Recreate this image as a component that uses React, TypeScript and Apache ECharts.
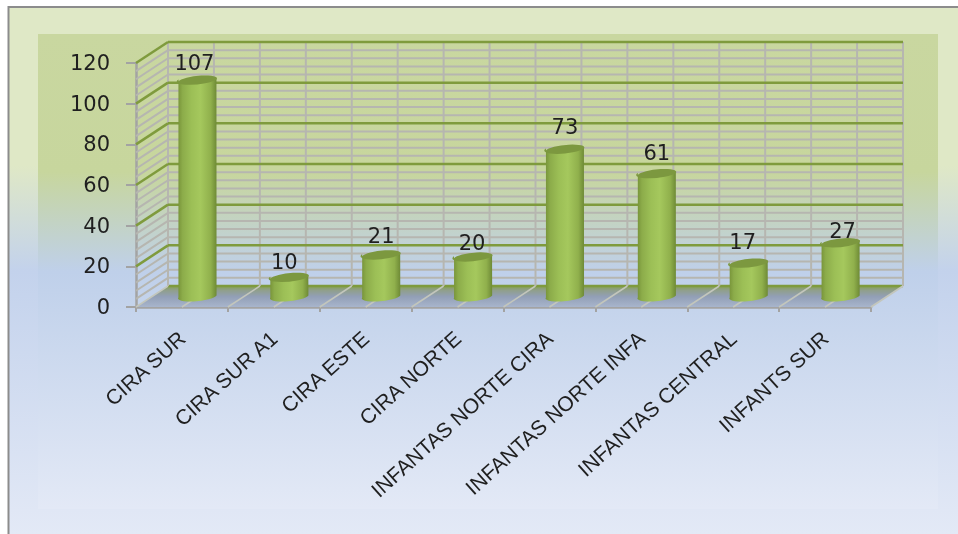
import React, { useEffect, useRef } from "react";
import * as echarts from "echarts";

const categories = ["CIRA SUR", "CIRA SUR A1", "CIRA ESTE", "CIRA NORTE", "INFANTAS NORTE CIRA", "INFANTAS NORTE INFA", "INFANTAS CENTRAL", "INFANTS SUR"];
const values = [107, 10, 21, 20, 73, 61, 17, 27];
const wallMajorTicks = [0, 20, 40, 60, 80, 100, 120];
const wallMinorTicks = [4, 8, 12, 16, 24, 28, 32, 36, 44, 48, 52, 56, 64, 68, 72, 76, 84, 88, 92, 96, 104, 108, 112, 116];
const labelNudgeX = [-3, -5, 0, -1, 0, 0, -6, 2];
const labelNudgeY = [-16, -15, -18, -13, -22, -20, -20, -11];

const DX = 32, DY = 21;
const MAJOR = "#7f9b3d", MINOR = "#b6b6b0";

function line(x1: number, y1: number, x2: number, y2: number, stroke: string, lineWidth: number) {
  return { type: "line", shape: { x1, y1, x2, y2 }, style: { stroke, lineWidth } };
}

function wallLines(color: string, width: number) {
  return (params: any, api: any) => {
    const cs = params.coordSys;
    const y = api.coord([0, api.value(1)])[1];
    return {
      type: "group",
      children: [
        line(cs.x, y, cs.x + DX, y - DY, color, width),
        line(cs.x + DX, y - DY, cs.x + cs.width + DX, y - DY, color, width),
      ],
    };
  };
}

const renderFrame = (params: any, api: any) => {
  const cs = params.coordSys;
  const [cx] = api.coord([api.value(0), 0]);
  const band = api.size([1, 0])[0];
  const bottom = cs.y + cs.height;
  const children: any[] = [];
  [cx - band / 2, cx].forEach((x) => {
    children.push(line(x + DX, bottom - DY, x + DX, cs.y - DY, MINOR, 2));
    children.push(line(x, bottom, x + DX, bottom - DY, "#c3c6bc", 1.5));
  });
  if (api.value(0) === categories.length - 1) {
    const r = cx + band / 2;
    children.push(line(r + DX, bottom - DY, r + DX, cs.y - DY, MINOR, 2));
    children.push(line(r, bottom, r + DX, bottom - DY, "#c3c6bc", 2));
  }
  return { type: "group", children };
};

const renderFloor = (params: any) => {
  const cs = params.coordSys;
  const b = cs.y + cs.height;
  const l = cs.x, r = cs.x + cs.width;
  return {
    type: "group",
    children: [
      {
        type: "polygon",
        shape: { points: [[l, b], [r, b], [r + DX, b - DY], [l + DX, b - DY]] },
        style: {
          fill: new echarts.graphic.LinearGradient(0, 0, 0, 1, [
            { offset: 0, color: "#86a055" },
            { offset: 0.2, color: "#909f8a" },
            { offset: 0.5, color: "#929fb6" },
            { offset: 1, color: "#a8b5cc" },
          ]),
        },
      },
      line(l + DX, b - DY, r + DX, b - DY, MAJOR, 2.5),
    ],
  };
};

const renderCylinder = (params: any, api: any) => {
  const i = api.value(0);
  const base = api.coord([i, 0]);
  const top = api.coord([i, api.value(1)]);
  const cx = base[0] + DX / 2 - 0.5;
  const by = base[1] - 11.5;
  const ty = top[1] - 10;
  const rx = 19, ry = 4.5, t = 2;
  const l = cx - rx, r = cx + rx;
  const body = `M${l} ${ty + t}L${l} ${by + t}A${rx} ${ry} -6 0 0 ${r} ${by - t}L${r} ${ty - t}A${rx} ${ry} -6 0 1 ${l} ${ty + t}Z`;
  const cap = `M${l} ${ty + t}A${rx} ${ry} -6 0 1 ${r} ${ty - t}A${rx} ${ry} -6 0 1 ${l} ${ty + t}Z`;
  return {
    type: "group",
    children: [
      {
        type: "path",
        shape: { pathData: body, layout: "none" },
        style: {
          fill: new echarts.graphic.LinearGradient(0, 0, 1, 0, [
            { offset: 0, color: "#779339" },
            { offset: 0.12, color: "#8cac4a" },
            { offset: 0.35, color: "#9cbf56" },
            { offset: 0.58, color: "#a5c85d" },
            { offset: 0.85, color: "#90b04c" },
            { offset: 1, color: "#6e8a36" },
          ]),
        },
      },
      {
        type: "path",
        shape: { pathData: cap, layout: "none" },
        style: { fill: "#7c983f" },
      },
      {
        type: "text",
        style: {
          text: String(api.value(1)),
          x: cx + labelNudgeX[i],
          y: ty + labelNudgeY[i],
          align: "center",
          verticalAlign: "middle",
          font: '21px "DejaVu Sans"',
          fill: "#1f1f1f",
        },
      },
    ],
  };
};

export default function App() {
  const ref = useRef<HTMLDivElement>(null);
  useEffect(() => {
    const chart = echarts.init(ref.current!, null, { renderer: "svg" });
    chart.setOption({
      animation: false,
      graphic: [
        {
          type: "rect",
          z: -10,
          silent: true,
          shape: { x: 9, y: 8, width: 949, height: 526 },
          style: {
            fill: new echarts.graphic.LinearGradient(0, 0, 0, 1, [
              { offset: 0, color: "#dfe8c6" },
              { offset: 0.3, color: "#dfe8c6" },
              { offset: 0.5, color: "#c3d2ec" },
              { offset: 1, color: "#e3e9f6" },
            ]),
          },
        },
        {
          type: "rect",
          z: -9,
          silent: true,
          shape: { x: 38, y: 34, width: 900, height: 475 },
          style: {
            fill: new echarts.graphic.LinearGradient(0, 0, 0, 1, [
              { offset: 0, color: "#c9d7a0" },
              { offset: 0.29, color: "#c7d69d" },
              { offset: 0.5, color: "#bfd0ea" },
              { offset: 1, color: "#e3e9f6" },
            ]),
          },
        },
        { type: "rect", z: -8, silent: true, shape: { x: 8, y: 6, width: 950, height: 2 }, style: { fill: "#8c8c8c" } },
        { type: "rect", z: -8, silent: true, shape: { x: 7.5, y: 6, width: 2, height: 528 }, style: { fill: "#8c8c8c" } },
      ],
      grid: { left: 136, right: 87, top: 63, bottom: 227 },
      xAxis: {
        type: "category",
        data: categories,
        axisLine: { lineStyle: { color: "#a3a3a3", width: 2.5 } },
        axisTick: { show: true, length: 5, lineStyle: { color: "#a3a3a3", width: 2 } },
        axisLabel: {
          interval: 0,
          rotate: 42,
          margin: 28,
          fontFamily: "Liberation Sans",
          fontSize: 21,
          color: "#1f1f1f",
        },
        splitLine: { show: false },
      },
      yAxis: {
        type: "value",
        min: 0,
        max: 120,
        interval: 20,
        axisLine: { show: true, lineStyle: { color: "#a3a3a3", width: 2.5 } },
        axisTick: { show: true, length: 10, lineStyle: { color: "#a3a3a3", width: 2 } },
        axisLabel: { margin: 26, fontFamily: "DejaVu Sans", fontSize: 21, color: "#1f1f1f" },
        splitLine: { show: false },
      },
      series: [
        { type: "custom", z: 1, silent: true, renderItem: renderFloor, data: [[0, 0]], encode: { x: 0, y: 1 } },
        { type: "custom", z: 1, silent: true, renderItem: wallLines(MINOR, 2), data: wallMinorTicks.map((v) => [0, v]), encode: { x: 0, y: 1 } },
        { type: "custom", z: 1, silent: true, renderItem: renderFrame, data: categories.map((_, i) => [i, 0]), encode: { x: 0, y: 1 } },
        { type: "custom", z: 1, silent: true, renderItem: wallLines(MAJOR, 2.5), data: wallMajorTicks.slice(1).map((v) => [0, v]), encode: { x: 0, y: 1 } },
        { type: "custom", z: 3, silent: true, renderItem: renderCylinder, data: values.map((v, i) => [i, v]), encode: { x: 0, y: 1 } },
      ],
    });
    return () => chart.dispose();
  }, []);
  return <div ref={ref} style={{ position: "fixed", left: 0, top: 0, width: 958, height: 534 }} />;
}
